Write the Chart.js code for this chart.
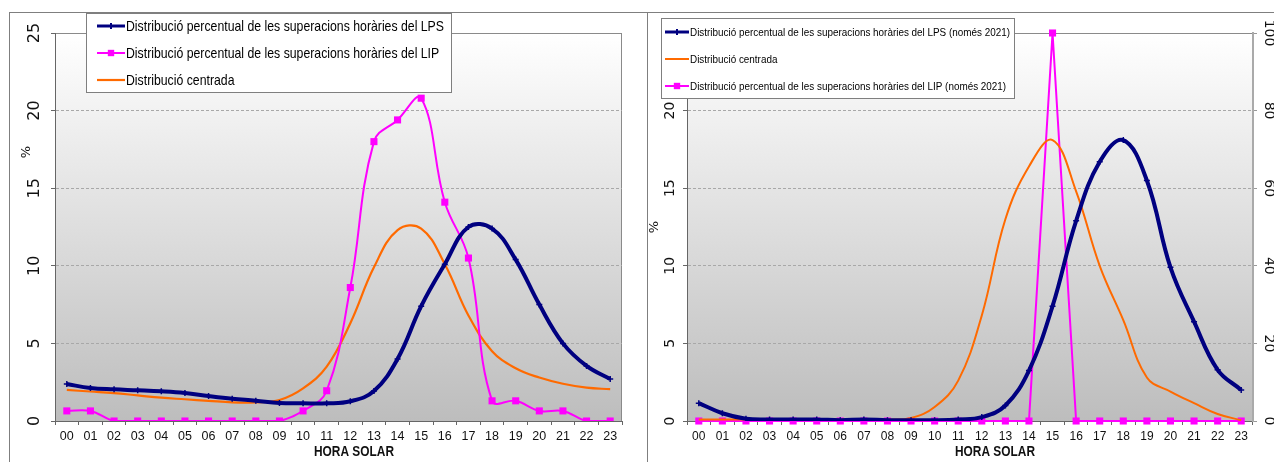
<!DOCTYPE html>
<html>
<head>
<meta charset="utf-8">
<script src="https://cdn.jsdelivr.net/npm/chart.js@4.4.1/dist/chart.umd.min.js"></script>
<style>
html, body { margin: 0; padding: 0; background: #fff; overflow: hidden; width: 1274px; height: 462px; }
.frame { position: absolute; border-top: 1px solid #7f7f7f; }
#frameL { left: 9px; top: 12px; width: 637px; height: 460px; border-left: 1px solid #7f7f7f; border-right: 1px solid #7f7f7f; }
#frameR { left: 647px; top: 12px; width: 700px; height: 460px; }
canvas { position: absolute; }
#cL { left: 10px; top: 13px; }
#cR { left: 648px; top: 13px; }
</style>
</head>
<body>
<div class="frame" id="frameL"></div>
<div class="frame" id="frameR"></div>
<canvas id="cL" width="636" height="449"></canvas>
<canvas id="cR" width="645" height="449"></canvas>
<script>
const hores = ['00','01','02','03','04','05','06','07','08','09','10','11','12','13','14','15','16','17','18','19','20','21','22','23'];

// gràfic esquerre (tot el període)
const lpsTotal      = [2.38, 2.13, 2.04, 1.98, 1.91, 1.80, 1.61, 1.44, 1.31, 1.16, 1.14, 1.14, 1.27, 1.93, 4.0, 7.4, 10.1, 12.5, 12.4, 10.4, 7.5, 5.0, 3.55, 2.7];
const lipTotal      = [0.65, 0.65, 0, 0, 0, 0, 0, 0, 0, 0, 0.65, 1.95, 8.6, 18.0, 19.4, 20.8, 14.1, 10.5, 1.3, 1.3, 0.65, 0.65, 0, 0];
const centradaTotal = [2.0, 1.9, 1.8, 1.65, 1.5, 1.4, 1.3, 1.2, 1.2, 1.35, 2.1, 3.5, 6.3, 9.9, 12.3, 12.4, 10.1, 6.8, 4.5, 3.4, 2.8, 2.4, 2.15, 2.05];

// gràfic dret (només 2021)
const lps2021      = [1.15, 0.5, 0.15, 0.1, 0.1, 0.1, 0.05, 0.1, 0.05, 0.05, 0.05, 0.1, 0.25, 1.0, 3.25, 7.4, 12.9, 16.7, 18.1, 15.5, 9.9, 6.4, 3.3, 2.0];
const centrada2021 = [0.1, 0.1, 0.1, 0.1, 0.1, 0.1, 0.1, 0.1, 0.1, 0.2, 0.9, 2.6, 6.8, 13.0, 16.4, 18.1, 14.8, 10.0, 6.5, 2.8, 1.9, 1.15, 0.45, 0.05];
const lip2021      = [0, 0, 0, 0, 0, 0, 0, 0, 0, 0, 0, 0, 0, 0, 0, 100, 0, 0, 0, 0, 0, 0, 0, 0];

const ticksPct = [0, 5, 10, 15, 20, 25];
const ticksDreta = [0, 20, 40, 60, 80, 100];

const titolX = 'HORA SOLAR';
const titolY = '%';

const SANS = "'Liberation Sans', Arial, sans-serif";
const NAVY = '#000080', MAGENTA = '#ff00ff', ORANGE = '#ff6a00';

function marca(ctx, estil, x, y, r, color) {
    ctx.save();
    ctx.fillStyle = color;
    ctx.strokeStyle = color;
    if (estil === 'rect') {
        const s = r * Math.SQRT1_2;
        ctx.fillRect(x - s, y - s, 2 * s, 2 * s);
    } else if (estil === 'cross') {
        ctx.lineWidth = 2;
        ctx.beginPath();
        ctx.moveTo(x, y - r); ctx.lineTo(x, y + r);
        ctx.moveTo(x - r, y); ctx.lineTo(x + r, y);
        ctx.stroke();
    }
    ctx.restore();
}

// text estret: s'escala horitzontalment fins a l'amplada que es vol
function textEstret(ctx, text, x, y, font, sx, align) {
    ctx.save();
    ctx.font = font;
    ctx.textBaseline = 'middle';
    ctx.textAlign = align || 'left';
    ctx.translate(x, y);
    ctx.scale(sx, 1);
    ctx.fillText(text, 0, 0);
    ctx.restore();
}

function textGirat(ctx, text, x, y, angle, font) {
    ctx.save();
    ctx.translate(x, y);
    ctx.rotate(angle);
    ctx.font = font;
    ctx.fillStyle = '#111';
    ctx.textAlign = 'center';
    ctx.textBaseline = 'middle';
    ctx.fillText(text, 0, 0);
    ctx.restore();
}

const decor = {
    id: 'decor',
    beforeDraw(chart, args, o) {
        const {ctx, chartArea: a} = chart;
        const g = ctx.createLinearGradient(0, a.top, 0, a.bottom);
        g.addColorStop(0, '#ffffff');
        g.addColorStop(1, '#bdbdbd');
        ctx.save();
        ctx.fillStyle = g;
        ctx.fillRect(a.left, a.top, a.right - a.left, a.bottom - a.top);
        ctx.strokeStyle = '#8a8a8a';
        ctx.lineWidth = 1;
        ctx.strokeRect(Math.round(a.left) + 0.5, Math.round(a.top) + 0.5, Math.round(a.right - a.left) - 1, Math.round(a.bottom - a.top));
        ctx.restore();
    },
    afterDraw(chart, args, o) {
        const ctx = chart.ctx;
        // títols dels eixos
        ctx.save();
        ctx.fillStyle = '#111';
        const fx = 'bold 15px ' + SANS;
        ctx.font = fx;
        textEstret(ctx, titolX, o.tx[0], o.tx[1], fx, 80 / ctx.measureText(titolX).width, 'center');
        ctx.restore();
        textGirat(ctx, titolY, o.ty[0], o.ty[1], -Math.PI / 2, '13px DejaVu Sans');
        if (o.ty1) textGirat(ctx, titolY, o.ty1[0], o.ty1[1], Math.PI / 2, '13px DejaVu Sans');

        // llegenda
        const L = o.legend;
        ctx.save();
        ctx.fillStyle = '#fff';
        ctx.fillRect(L.x, L.y, L.w, L.h);
        ctx.strokeStyle = '#7f7f7f';
        ctx.lineWidth = 1;
        ctx.strokeRect(L.x + 0.5, L.y + 0.5, L.w - 1, L.h - 1);
        const fl = L.size + 'px ' + SANS;
        ctx.font = fl;
        const sx = L.textW / ctx.measureText(chart.data.datasets[0].label).width;
        chart.data.datasets.forEach((ds, i) => {
            const yy = L.y + L.first + i * L.row;
            const x0 = L.x + L.pad, x1 = x0 + L.sample;
            ctx.save();
            ctx.strokeStyle = ds.borderColor;
            ctx.lineWidth = Math.min(ds.borderWidth, 3);
            ctx.beginPath();
            ctx.moveTo(x0, yy); ctx.lineTo(x1, yy);
            ctx.stroke();
            ctx.restore();
            if (ds.pointRadius > 0) marca(ctx, ds.pointStyle, (x0 + x1) / 2, yy, ds.pointStyle === 'rect' ? 4.5 : 3, ds.borderColor);
            ctx.fillStyle = '#000';
            textEstret(ctx, ds.label, x1 + 1, yy + 0.5, fl, sx);
        });
        ctx.restore();
    }
};

function eixX(fontSize) {
    return {
        type: 'category',
        offset: true,
        grid: { offset: true, drawOnChartArea: false, drawTicks: true, tickLength: 4, tickColor: '#666' },
        border: { display: true, color: '#666' },
        ticks: { autoSkip: false, minRotation: 0, maxRotation: 0, padding: 4, color: '#111', font: { family: SANS, size: fontSize } },
        afterFit: s => { s.height = 41; }
    };
}

function eixPct(width, pad, fontSize) {
    return {
        position: 'left',
        min: 0, max: 25,
        afterBuildTicks: s => { s.ticks = ticksPct.map(v => ({ value: v })); },
        grid: {
            color: c => (c.tick && c.tick.value > 0 && c.tick.value < 25) ? '#a8a8a8' : 'rgba(0,0,0,0)',
            tickColor: '#666', tickLength: 4
        },
        border: { display: true, color: '#666', dash: [3, 2] },
        ticks: { minRotation: 90, maxRotation: 90, crossAlign: 'center', padding: pad, color: '#111', font: { family: 'DejaVu Sans', size: fontSize } },
        afterFit: s => { s.width = width; }
    };
}

const comuns = {
    responsive: false,
    animation: false,
    events: [],
    elements: { line: { tension: 0.4 } }
};

new Chart(document.getElementById('cL'), {
    type: 'line',
    data: {
        labels: hores,
        datasets: [
            { label: 'Distribució percentual de les superacions horàries del LPS', data: lpsTotal,
              borderColor: NAVY, backgroundColor: NAVY, borderWidth: 4, pointStyle: 'cross', pointRadius: 3, pointBorderWidth: 1.5 },
            { label: 'Distribució percentual de les superacions horàries del LIP', data: lipTotal,
              borderColor: MAGENTA, backgroundColor: MAGENTA, borderWidth: 2, pointStyle: 'rect', pointRadius: 5, pointBorderWidth: 0 },
            { label: 'Distribució centrada', data: centradaTotal,
              borderColor: ORANGE, backgroundColor: ORANGE, borderWidth: 2.2, pointRadius: 0 }
        ]
    },
    options: Object.assign({}, comuns, {
        layout: { padding: { top: 20, right: 24, left: 0, bottom: 0 } },
        scales: { x: eixX(12.5), y: eixPct(45, 6, 16) },
        plugins: {
            legend: { display: false },
            tooltip: { enabled: false },
            decor: {
                tx: [344, 439], ty: [17, 139], ty1: null,
                legend: { x: 76, y: 0, w: 366, h: 80, first: 13, row: 27, pad: 11, sample: 28, size: 15, textW: 318 }
            }
        }
    }),
    plugins: [decor]
});

new Chart(document.getElementById('cR'), {
    type: 'line',
    data: {
        labels: hores,
        datasets: [
            { label: 'Distribució percentual de les superacions horàries del LPS (només 2021)', data: lps2021, yAxisID: 'y',
              borderColor: NAVY, backgroundColor: NAVY, borderWidth: 4, pointStyle: 'cross', pointRadius: 3, pointBorderWidth: 1.5 },
            { label: 'Distribució centrada', data: centrada2021, yAxisID: 'y',
              borderColor: ORANGE, backgroundColor: ORANGE, borderWidth: 2, pointRadius: 0 },
            { label: 'Distribució percentual de les superacions horàries del LIP (només 2021)', data: lip2021, yAxisID: 'y1',
              borderColor: MAGENTA, backgroundColor: MAGENTA, borderWidth: 2, pointStyle: 'rect', pointRadius: 5, pointBorderWidth: 0,
              tension: 0, clip: 8 }
        ]
    },
    options: Object.assign({}, comuns, {
        layout: { padding: { top: 20, right: 0, left: 0, bottom: 0 } },
        scales: {
            x: eixX(12),
            y: eixPct(39, 4, 14),
            y1: {
                position: 'right',
                min: 0, max: 100,
                afterBuildTicks: s => { s.ticks = ticksDreta.map(v => ({ value: v })); },
                grid: { drawOnChartArea: false, tickColor: '#999', tickLength: 4 },
                border: { display: true, color: '#aaa', width: 2 },
                ticks: { minRotation: -90, maxRotation: -90, crossAlign: 'center', padding: -2, color: '#111', font: { family: 'DejaVu Sans', size: 14 } },
                afterFit: s => { s.width = 40; }
            }
        },
        plugins: {
            legend: { display: false },
            tooltip: { enabled: false },
            decor: {
                tx: [347, 439], ty: [7, 214], ty1: [632, 214],
                legend: { x: 13, y: 5, w: 354, h: 81, first: 14, row: 27, pad: 4, sample: 24, size: 11.5, textW: 320 }
            }
        }
    }),
    plugins: [decor]
});
</script>
</body>
</html>
